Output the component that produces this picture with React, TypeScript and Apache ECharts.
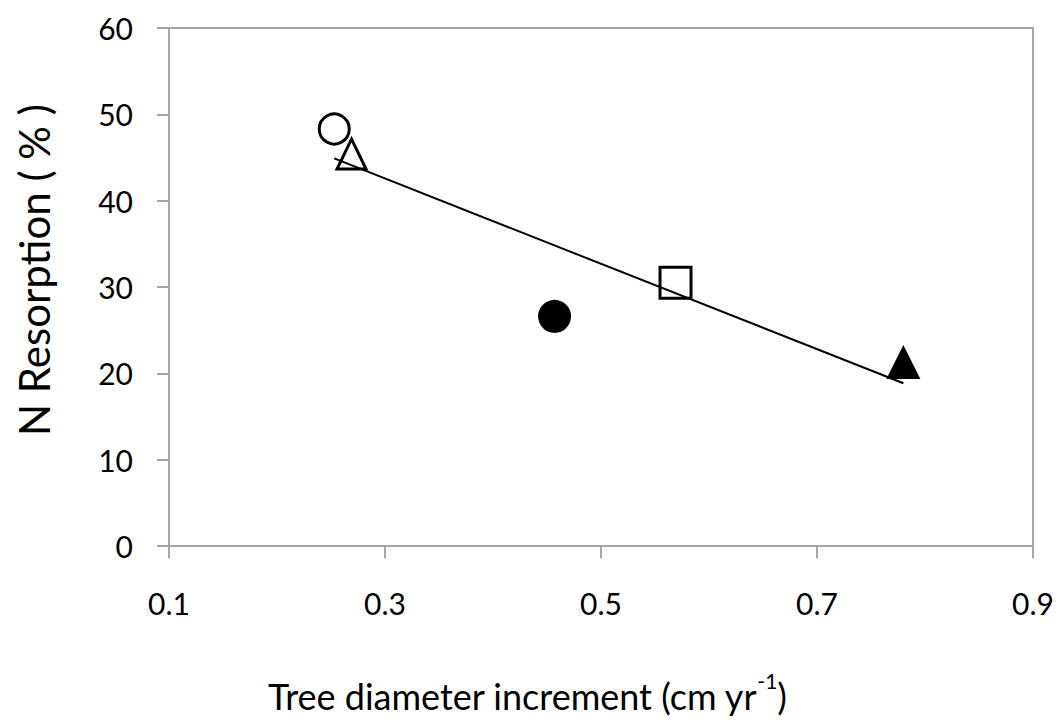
import React, { useEffect, useRef } from "react";
import * as echarts from "echarts";

// Data
const openCircle: number[][] = [[0.253, 48.3]];
const openTriangle: number[][] = [[0.269, 45.4]];
const filledCircle: number[][] = [[0.457, 26.6]];
const openSquare: number[][] = [[0.569, 30.5]];
const filledTriangle: number[][] = [[0.78, 21.3]];
const trendLine: number[][] = [[0.253, 44.9], [0.78, 18.85]];

const xMin = 0.1;
const xMax = 0.9;
const xStep = 0.2;
const yMin = 0;
const yMax = 60;
const yStep = 10;

const xTitle = "Tree diameter increment (cm yr";
const xTitleSup = "-1";
const xTitleEnd = ")";
const yTitle = "N Resorption ( % )";

const FONT = "Lato, 'Open Sans', sans-serif";
const AXIS_COLOR = "#a6a6a6";

export default function App() {
  const ref = useRef<HTMLDivElement>(null);
  useEffect(() => {
    if (!ref.current) return;
    const chart = echarts.init(ref.current, null, { renderer: "svg" });
    const axisCommon = {
      axisLine: { show: true, lineStyle: { color: AXIS_COLOR, width: 2 } },
      axisTick: { show: true, inside: false, length: 12, lineStyle: { color: AXIS_COLOR, width: 2 } },
      splitLine: { show: false },
    };
    chart.setOption({
      animation: false,
      backgroundColor: "#ffffff",
      grid: {
        left: 169,
        right: 29,
        top: 28,
        bottom: 180,
        show: true,
        borderColor: AXIS_COLOR,
        borderWidth: 2,
        backgroundColor: "transparent",
      },
      xAxis: {
        type: "value",
        min: xMin,
        max: xMax,
        interval: xStep,
        ...axisCommon,
        axisLabel: {
          margin: 42,
          fontSize: 30,
          color: "#000",
          fontFamily: FONT,
          formatter: (v: number) => v.toFixed(1),
        },
      },
      yAxis: {
        type: "value",
        min: yMin,
        max: yMax,
        interval: yStep,
        ...axisCommon,
        axisLabel: {
          margin: 36,
          fontSize: 30,
          color: "#000",
          fontFamily: FONT,
        },
      },
      series: [
        {
          type: "scatter",
          name: "open circle",
          data: openCircle,
          symbol: "circle",
          symbolSize: 30,
          itemStyle: { color: "#ffffff", borderColor: "#000", borderWidth: 3, opacity: 1 },
          z: 2,
        },
        {
          type: "scatter",
          name: "open triangle",
          data: openTriangle,
          symbol: "triangle",
          symbolSize: [29, 30],
          itemStyle: { color: "transparent", borderColor: "#000", borderWidth: 3, opacity: 1 },
          z: 4,
        },
        {
          type: "scatter",
          name: "filled circle",
          data: filledCircle,
          symbol: "circle",
          symbolSize: 33,
          itemStyle: { color: "#000", opacity: 1 },
          z: 2,
        },
        {
          type: "scatter",
          name: "open square",
          data: openSquare,
          symbol: "rect",
          symbolSize: 31,
          itemStyle: { color: "transparent", borderColor: "#000", borderWidth: 3, opacity: 1 },
          z: 4,
        },
        {
          type: "scatter",
          name: "filled triangle",
          data: filledTriangle,
          symbol: "triangle",
          symbolSize: [34, 34],
          itemStyle: { color: "#000", opacity: 1 },
          z: 2,
        },
        {
          type: "line",
          name: "trend",
          data: trendLine,
          symbol: "none",
          lineStyle: { color: "#000", width: 2 },
          z: 3,
        },
      ],
      graphic: [
        {
          type: "text",
          x: 527,
          y: 692,
          style: {
            text: `{a|${xTitle}}{s|${xTitleSup}}{a|${xTitleEnd}}`,
            align: "center",
            verticalAlign: "middle",
            rich: {
              a: { fontSize: 36, fontFamily: FONT, fill: "#000", lineHeight: 44, verticalAlign: "bottom" },
              s: { fontSize: 21, fontFamily: FONT, fill: "#000", lineHeight: 40, verticalAlign: "top" },
            },
          },
        },
        {
          type: "text",
          x: 34,
          y: 270,
          rotation: Math.PI / 2,
          style: {
            text: yTitle,
            fontSize: 42,
            fontFamily: FONT,
            fill: "#000",
            align: "center",
            verticalAlign: "middle",
          },
        },
      ],
    });
    return () => chart.dispose();
  }, []);
  return (
    <div
      ref={ref}
      style={{ position: "fixed", left: 0, top: 0, width: 1062, height: 726 }}
    />
  );
}
